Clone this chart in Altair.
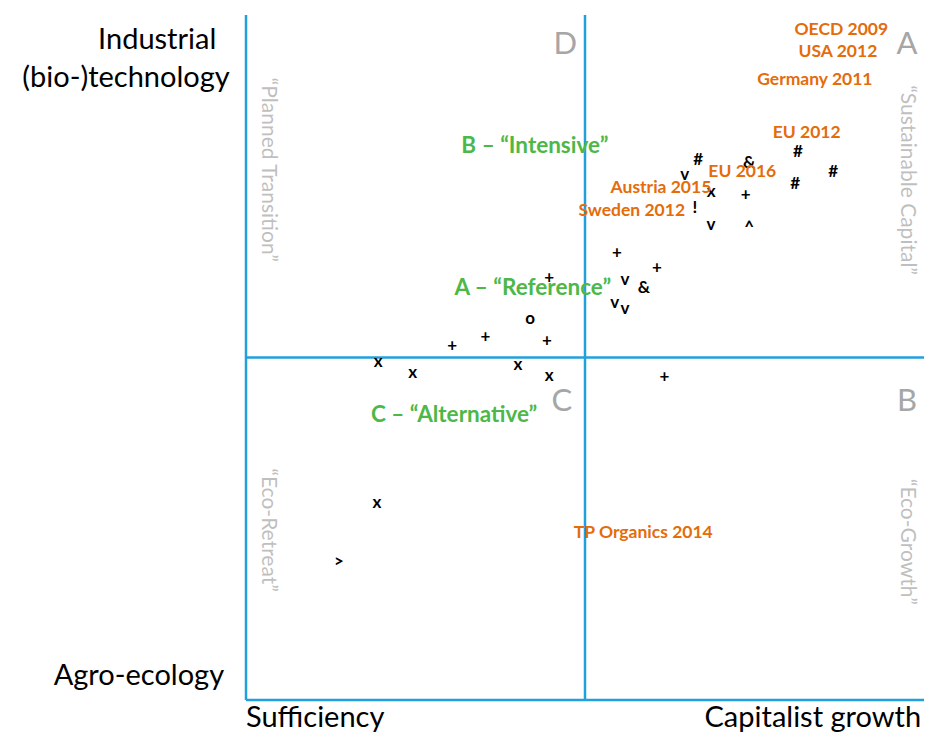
import altair as alt
import pandas as pd

# ---- data ----
sym_text = ["#", "&", "#", "#", "#", "v", "x", "+", "!", "v", "^",
            "+", "+", "v", "&", "v", "v", "+", "o", "+", "+", "+",
            "x", "x", "x", "x", "+", "x", ">"]
sym_x = [66.7, 74.2, 81.4, 86.6, 81.0, 64.7, 68.6, 73.7, 66.2, 68.6, 74.2,
         54.7, 60.6, 55.9, 58.7, 54.4, 55.9, 44.7, 41.9, 30.4, 35.3, 44.4,
         19.5, 24.6, 40.1, 44.7, 61.7, 19.3, 13.7]
sym_y = [78.8, 78.4, 80.0, 77.1, 75.3, 76.6, 74.2, 73.7, 71.8, 69.3, 68.9,
         65.3, 63.1, 61.3, 60.1, 58.0, 57.1, 61.6, 55.6, 51.7, 53.0, 52.4,
         49.3, 47.7, 48.9, 47.3, 47.2, 28.8, 20.1]

doc_names = ["OECD 2009", "USA 2012", "Germany 2011", "EU 2012", "EU 2016",
             "Austria 2015", "Sweden 2012", "TP Organics 2014"]
doc_x = [87.8, 87.3, 83.9, 82.7, 73.2, 61.2, 56.9, 58.6]
doc_y = [97.8, 94.6, 90.5, 82.8, 77.1, 74.7, 71.4, 24.4]

scen_names = ["B – “Intensive”", "A – “Reference”", "C – “Alternative”"]
scen_x = [42.6, 42.3, 30.7]
scen_y = [80.9, 60.1, 41.6]

quad_letters = ["D", "A", "C", "B"]
quad_x = [47.1, 97.5, 46.6, 97.5]
quad_y = [95.6, 95.6, 43.5, 43.5]

quad_names = ["“Planned Transition”", "“Sustainable Capital”", "“Eco-Retreat”", "“Eco-Growth”"]
qn_x = [3.2, 97.5, 3.2, 97.5]
qn_y = [77.4, 75.9, 24.8, 23.1]

axis_labels = ["Industrial", "(bio-)technology", "Agro-ecology", "Sufficiency", "Capitalist growth"]
al_x = [-13.1, -17.7, -15.8, 10.2, 83.6]
al_y = [96.4, 90.8, 3.5, -2.6, -2.6]

line_x = [0, 0, 50, 0]
line_x2 = [0, 100, 50, 100]
line_y = [0, 0, 0, 50]
line_y2 = [100, 0, 100, 50]

# ---- chart ----
xs = alt.Scale(domain=[0, 100])
ys = alt.Scale(domain=[0, 100])
X = lambda: alt.X("x:Q", scale=xs, axis=None)
Y = lambda: alt.Y("y:Q", scale=ys, axis=None)

FONT = "Lato"
BLUE = "#22A0DC"
ORANGE = "#E46C0A"
GREEN = "#4DB848"

lines = alt.Chart(pd.DataFrame({"x": line_x, "x2": line_x2, "y": line_y, "y2": line_y2})).mark_rule(
    color=BLUE, strokeWidth=2.5
).encode(x=X(), x2="x2:Q", y=Y(), y2="y2:Q")

syms = alt.Chart(pd.DataFrame({"x": sym_x, "y": sym_y, "t": sym_text})).mark_text(
    font=FONT, fontSize=17, fontWeight="bold", color="black", baseline="middle", align="center"
).encode(x=X(), y=Y(), text="t:N")

docs = alt.Chart(pd.DataFrame({"x": doc_x, "y": doc_y, "t": doc_names})).mark_text(
    font=FONT, fontSize=17.5, fontWeight="bold", color=ORANGE, baseline="middle", align="center"
).encode(x=X(), y=Y(), text="t:N")

scens = alt.Chart(pd.DataFrame({"x": scen_x, "y": scen_y, "t": scen_names})).mark_text(
    font=FONT, fontSize=22.5, fontWeight="bold", color=GREEN, baseline="middle", align="center"
).encode(x=X(), y=Y(), text="t:N")

letters = alt.Chart(pd.DataFrame({"x": quad_x, "y": quad_y, "t": quad_letters})).mark_text(
    font=FONT, fontSize=31, color="#A6A6A6", baseline="middle", align="center"
).encode(x=X(), y=Y(), text="t:N")

qnames = alt.Chart(pd.DataFrame({"x": qn_x, "y": qn_y, "t": quad_names})).mark_text(
    font=FONT, fontSize=21, color="#BFBFBF", baseline="middle", align="center", angle=90
).encode(x=X(), y=Y(), text="t:N")

alabels = alt.Chart(pd.DataFrame({"x": al_x, "y": al_y, "t": axis_labels})).mark_text(
    font=FONT, fontSize=29, color="black", baseline="middle", align="center"
).encode(x=X(), y=Y(), text="t:N")

chart = alt.layer(lines, syms, docs, scens, letters, qnames, alabels).properties(
    width=678, height=685,
    autosize=alt.AutoSizeParams(type="none"),
    padding={"left": 238, "top": 7, "right": 0, "bottom": 32},
).configure_view(stroke=None)

chart.save("out.html", embed_options={"renderer": "svg", "actions": False})
